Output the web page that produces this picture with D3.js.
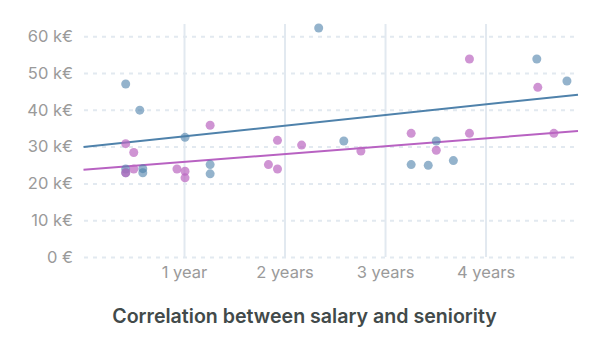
<!DOCTYPE html>
<html>
<head>
<meta charset="utf-8">
<script src="https://cdn.jsdelivr.net/npm/d3@7"></script>
<style>
  html, body { margin: 0; padding: 0; background: #fff; }
  svg { display: block; font-family: Inter, "Noto Sans", sans-serif; }
</style>
</head>
<body>
<svg id="chart" width="614" height="340"></svg>
<script>
// ---- data ----
const title = "Correlation between salary and seniority";
const xTickValues = [1, 2, 3, 4];
const xTickLabels = ["1 year", "2 years", "3 years", "4 years"];
const yTickValues = [0, 10, 20, 30, 40, 50, 60];
const yTickLabels = ["0 €", "10 k€", "20 k€", "30 k€", "40 k€", "50 k€", "60 k€"];

// series A (blue): seniority in years, salary in k€
const blueYears  = [0.42, 0.56, 1.01, 0.42, 0.42, 0.59, 0.59, 1.26, 1.26, 2.34, 2.59, 3.26, 3.43, 3.68, 3.51, 4.51, 4.81];
const blueSalary = [47.0, 39.9, 32.5, 23.9, 22.9, 24.0, 22.9, 25.1, 22.6, 62.2, 31.5, 25.1, 24.9, 26.2, 31.5, 53.8, 47.8];

// series B (purple)
const pinkYears  = [0.42, 0.50, 0.50, 0.42, 0.93, 1.01, 1.01, 1.26, 1.84, 1.93, 1.93, 2.17, 2.76, 3.26, 3.84, 3.51, 4.68, 3.84, 4.52];
const pinkSalary = [30.8, 28.4, 23.9, 22.9, 23.9, 23.3, 21.5, 35.8, 25.1, 23.9, 31.7, 30.4, 28.8, 33.6, 33.6, 29.0, 33.6, 53.8, 46.1];

// trend lines (start and end values)
const trendYears = [0, 4.92];
const blueTrend  = [29.9, 44.1];
const pinkTrend  = [23.7, 34.2];

// ---- chart ----
const svg = d3.select("#chart");
const x = d3.scaleLinear().domain([0, 4.92]).range([83.5, 578]);
const y = d3.scaleLinear().domain([0, 63.3]).range([257, 24]);

const gridColor = "#e2e9f0";

// horizontal dashed gridlines via axis
const yAxis = d3.axisLeft(y)
  .tickValues(yTickValues)
  .tickFormat((d, i) => yTickLabels[i])
  .tickSize(-(578 - 84))
  .tickPadding(11);
const gy = svg.append("g").attr("transform", "translate(84,0)").call(yAxis);
gy.select(".domain").remove();
gy.selectAll(".tick line")
  .attr("stroke", gridColor).attr("stroke-width", 2)
  .attr("stroke-dasharray", "4,5");
gy.selectAll(".tick text")
  .attr("fill", "#9a9a9a").attr("font-size", 16.5)
  .attr("font-family", "Inter, sans-serif");

// vertical gridlines via axis
const xAxis = d3.axisBottom(x)
  .tickValues(xTickValues)
  .tickFormat((d, i) => xTickLabels[i])
  .tickSize(-(257 - 24))
  .tickPadding(9);
const gx = svg.append("g").attr("transform", "translate(0,257)").call(xAxis);
gx.select(".domain").remove();
gx.selectAll(".tick line").attr("stroke", gridColor).attr("stroke-width", 2);
gx.selectAll(".tick text")
  .attr("fill", "#9a9a9a").attr("font-size", 16.5)
  .attr("font-family", "Inter, sans-serif");

// trend lines
const line = d3.line().x(d => x(d[0])).y(d => y(d[1]));
svg.append("path")
  .datum(trendYears.map((t, i) => [t, blueTrend[i]]))
  .attr("d", line).attr("fill", "none")
  .attr("stroke", "#4f82ab").attr("stroke-width", 2);
svg.append("path")
  .datum(trendYears.map((t, i) => [t, pinkTrend[i]]))
  .attr("d", line).attr("fill", "none")
  .attr("stroke", "#b862c2").attr("stroke-width", 2);

// points
svg.append("g").selectAll("circle")
  .data(blueYears.map((t, i) => [t, blueSalary[i]]))
  .join("circle")
  .attr("cx", d => x(d[0])).attr("cy", d => y(d[1])).attr("r", 4.5)
  .attr("fill", "#4d80aa").attr("fill-opacity", 0.6);
svg.append("g").selectAll("circle")
  .data(pinkYears.map((t, i) => [t, pinkSalary[i]]))
  .join("circle")
  .attr("cx", d => x(d[0])).attr("cy", d => y(d[1])).attr("r", 4.5)
  .attr("fill", "#bb66c0").attr("fill-opacity", 0.7);

// title
svg.append("text")
  .attr("x", 304.5).attr("y", 323)
  .attr("text-anchor", "middle")
  .attr("font-family", "Inter, sans-serif")
  .attr("font-size", 19.6).attr("font-weight", 600)
  .attr("fill", "#424a4a")
  .text(title);
</script>
</body>
</html>
